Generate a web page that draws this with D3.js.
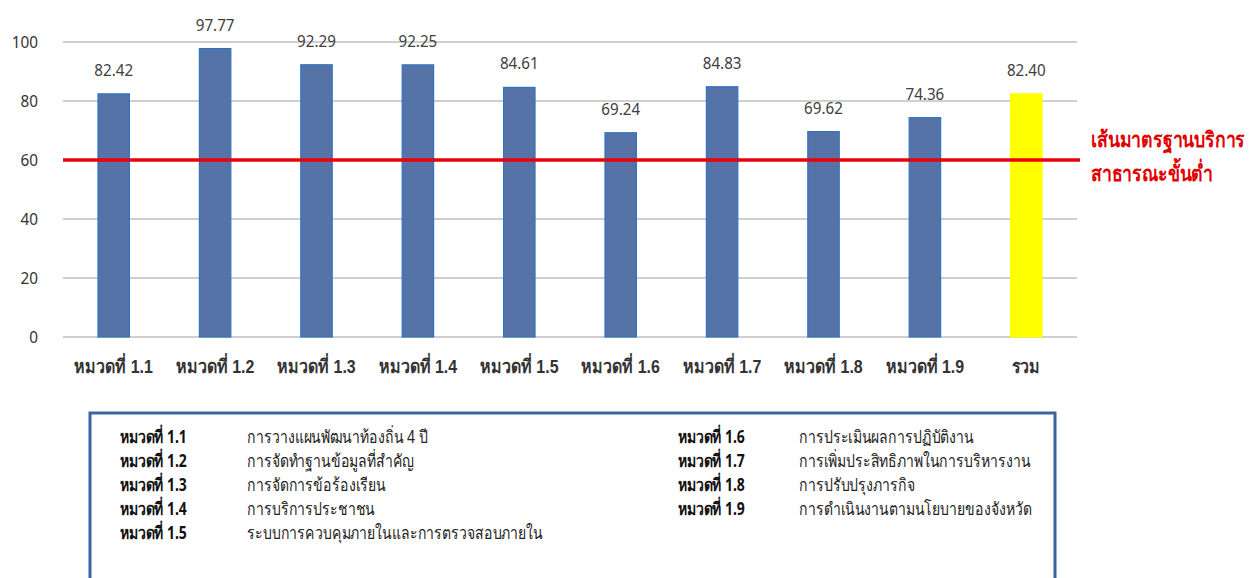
<!DOCTYPE html>
<html><head><meta charset="utf-8">
<script src="https://cdn.jsdelivr.net/npm/d3@7"></script>
<style>
html,body{margin:0;padding:0;background:#fff;}
svg{display:block;font-family:"Noto Sans","Open Sans",sans-serif;}
</style></head>
<body><svg id="c" width="1249" height="578"></svg>
<script>
const categories = ["หมวดที่ 1.1","หมวดที่ 1.2","หมวดที่ 1.3","หมวดที่ 1.4","หมวดที่ 1.5","หมวดที่ 1.6","หมวดที่ 1.7","หมวดที่ 1.8","หมวดที่ 1.9","รวม"];
const values = [82.42,97.77,92.29,92.25,84.61,69.24,84.83,69.62,74.36,82.40];
const yTicks = [0,20,40,60,80,100];
const standardValue = 60;
const standardLabel = ["เส้นมาตรฐานบริการ","สาธารณะขั้นต่ำ"];
const legendLeft = [["หมวดที่ 1.1","การวางแผนพัฒนาท้องถิ่น 4 ปี"],["หมวดที่ 1.2","การจัดทำฐานข้อมูลที่สำคัญ"],["หมวดที่ 1.3","การจัดการข้อร้องเรียน"],["หมวดที่ 1.4","การบริการประชาชน"],["หมวดที่ 1.5","ระบบการควบคุมภายในและการตรวจสอบภายใน"]];
const legendRight = [["หมวดที่ 1.6","การประเมินผลการปฏิบัติงาน"],["หมวดที่ 1.7","การเพิ่มประสิทธิภาพในการบริหารงาน"],["หมวดที่ 1.8","การปรับปรุงภารกิจ"],["หมวดที่ 1.9","การดำเนินงานตามนโยบายของจังหวัด"]];

const svg = d3.select("#c");
const x = d3.scaleBand().domain(categories).range([63,1077]).paddingInner(0.69).paddingOuter(0.345);
const y = d3.scaleLinear().domain([0,100]).range([337,42]);

// gridlines
svg.append("g").selectAll("line").data(yTicks).join("line")
  .attr("x1",63).attr("x2",1077).attr("y1",d=>y(d)).attr("y2",d=>y(d))
  .attr("stroke","#bfbfbf").attr("stroke-width",1.5);

// y axis labels
const yAxis = d3.axisLeft(y).tickValues(yTicks).tickSize(0).tickPadding(0);
const ya = svg.append("g").attr("transform","translate(38,0)").call(yAxis);
ya.select(".domain").remove();
ya.selectAll("text").attr("font-size",17).attr("fill","#333").attr("font-family","Noto Sans, sans-serif")
  .attr("transform","scale(0.9,1)");

// bars
svg.append("g").selectAll("rect").data(values).join("rect")
  .attr("x",(d,i)=>x(categories[i])).attr("width",x.bandwidth())
  .attr("y",d=>y(d)).attr("height",d=>y(0)-y(d))
  .attr("fill",(d,i)=>i===categories.length-1?"#ffff00":"#5673a8")
  .attr("stroke",(d,i)=>i===categories.length-1?"#ffff00":"#3273c0").attr("stroke-width",1.2);

// value labels
svg.append("g").selectAll("text").data(values).join("text")
  .attr("transform",(d,i)=>`translate(${x(categories[i])+x.bandwidth()/2},${y(d)-18}) scale(0.92,1)`)
  .attr("text-anchor","middle").attr("font-size",16.5).attr("fill","#404040")
  .text(d=>d.toFixed(2));

// x axis labels
const xAxis = d3.axisBottom(x).tickSize(0).tickPadding(0);
const xa = svg.append("g").attr("transform","translate(0,373)").call(xAxis);
xa.select(".domain").remove();
xa.selectAll("text").attr("font-size",19).attr("font-weight","bold").attr("fill","#333").attr("dy","0")
  .attr("transform","scale(0.84,1)");

// standard line
svg.append("line").attr("x1",63).attr("x2",1080).attr("y1",y(standardValue)).attr("y2",y(standardValue))
  .attr("stroke","#e8000b").attr("stroke-width",3.5);
svg.append("g").selectAll("text").data(standardLabel).join("text")
  .attr("transform",(d,i)=>`translate(1091,${147+i*34}) scale(0.82,1)`)
  .attr("font-size",21.5).attr("font-weight","bold")
  .attr("fill","#e00000").text(d=>d);

// legend box
svg.append("rect").attr("x",90).attr("y",413).attr("width",965).attr("height",180)
  .attr("fill","none").attr("stroke","#3d639d").attr("stroke-width",3);
function legendCol(data, lx, dx){
  const g = svg.append("g");
  data.forEach((r,i)=>{
    const yy = 443 + i*24;
    g.append("text").attr("transform",`translate(${lx},${yy}) scale(0.8,1)`).attr("font-size",17.5).attr("font-weight","bold").attr("fill","#111").text(r[0]);
    g.append("text").attr("transform",`translate(${dx},${yy}) scale(0.8,1)`).attr("font-size",17.5).attr("fill","#222").text(r[1]);
  });
}
legendCol(legendLeft,120,247);
legendCol(legendRight,678,799);
</script></body></html>
